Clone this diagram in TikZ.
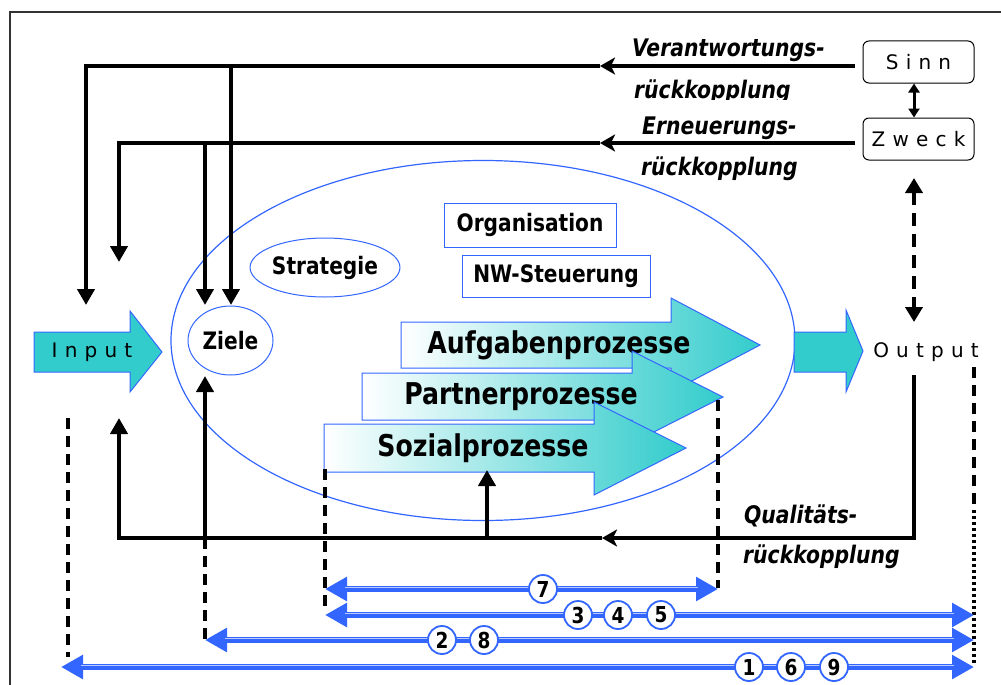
\documentclass[tikz,border=0pt]{standalone}
\usepackage{fontspec}
\setmainfont{DejaVu Sans}
\newfontfamily\bsf{DejaVu Sans}[FakeStretch=0.84]
\newfontfamily\spc{DejaVu Sans}[LetterSpace=36]
\usetikzlibrary{arrows.meta,shapes.geometric}
\definecolor{lineblue}{HTML}{3366FF}
\definecolor{tealc}{HTML}{33CCCC}
\tikzset{
  fb/.style={line width=4.5pt, black},
  tipd/.style={-{Triangle[length=16pt,width=17pt]}},
  midtip/.style={-{Stealth[length=15pt,width=17pt,inset=4pt]}},
  dsh/.style={line width=4.5pt, black, dash pattern=on 11pt off 7pt},
  dts/.style={line width=4pt, black, dash pattern=on 3pt off 3pt},
  bluear/.style={line width=6.5pt, lineblue, {Triangle[length=22pt,width=23pt]}-{Triangle[length=22pt,width=23pt]}},
  hilite/.style={line width=1pt, lineblue!35},
  numc/.style={circle, draw=lineblue, line width=1.8pt, fill=white, minimum size=28pt, inner sep=0pt, font=\bsf\bfseries\fontsize{22}{22}\selectfont},
  bbox/.style={draw=lineblue, line width=1pt, inner sep=0pt, font=\bsf\bfseries\fontsize{24}{28}\selectfont},
  procarrow/.style={draw=lineblue, line width=1pt, left color=white, right color=tealc},
  proctext/.style={inner sep=0pt, font=\bsf\bfseries\fontsize{30}{34}\selectfont},
  fblabel/.style={anchor=base west, inner sep=0pt, font=\bsf\bfseries\itshape\fontsize{24.2}{28}\selectfont},
  roundbox/.style={draw=black, line width=1pt, rounded corners=6pt, inner sep=0pt, minimum width=111pt, minimum height=42pt, font=\spc\fontsize{20}{24}\selectfont},
  fatarrow/.style={draw=lineblue, line width=1pt, fill=tealc},
}
\begin{document}
\begin{tikzpicture}[x=1pt,y=-1pt]
\useasboundingbox (0,0) rectangle (1001,685);
\fill[white] (0,0) rectangle (1001,685);
% frame
\draw[line width=1.5pt, black!80] (10,700) -- (10,12) -- (1010,12);

% big ellipse
\draw[lineblue, line width=1.2pt] (483,340.5) ellipse [x radius=312, y radius=180];

% process arrows
\path[procarrow] (401,322) -- (671,322) -- (671,298) -- (760,345) -- (671,392) -- (671,368) -- (401,368) -- cycle;
\node[proctext] (aufg) at (559,345) {Aufgabenprozesse};
\path[procarrow] (362,373) -- (632,373) -- (632,351) -- (723,397) -- (632,443) -- (632,420) -- (362,420) -- cycle;
\node[proctext] (partner) at (521,397) {Partnerprozesse};
\path[procarrow] (324,424) -- (594,424) -- (594,402) -- (686,448) -- (594,495) -- (594,472) -- (324,472) -- cycle;
\node[proctext] (sozial) at (483,448) {Sozialprozesse};

% inner nodes
\node[bbox, minimum width=172pt, minimum height=44pt] (org) at (530,225) {Organisation};
\node[bbox, minimum width=188pt, minimum height=42pt] (nw) at (556,276) {NW-Steuerung};
\node[bbox, ellipse, minimum width=136pt, minimum height=59pt] (strat) at (325,267.5) {Strategie};
\node[bbox, ellipse, minimum width=85pt, minimum height=69pt] (ziele) at (230.5,340.5) {Ziele};

% input / output arrows
\path[fatarrow] (34,332) -- (130,332) -- (130,311) -- (162,352) -- (130,392) -- (130,372) -- (34,372) -- cycle;
\node[inner sep=0pt, font=\spc\fontsize{20}{24}\selectfont] (input) at (92,352) {Input};
\path[fatarrow] (794,332) -- (846,332) -- (846,310) -- (863,351) -- (846,392) -- (846,372) -- (794,372) -- cycle;
\node[inner sep=0pt, font=\spc\fontsize{20}{24}\selectfont] (output) at (926,352) {Output};

% Sinn / Zweck
\node[roundbox] (sinn) at (918.5,62) {Sinn};
\node[roundbox] (zweck) at (918.5,139) {Zweck};
\draw[line width=3pt, {Triangle[length=9pt,width=11pt]}-{Triangle[length=9pt,width=11pt]}] ([xshift=-4.5pt]sinn.south) -- ([xshift=-4.5pt]zweck.north);
\coordinate (zd) at (914,178);
\coordinate (od) at (914,322);
\draw[line width=4.5pt, dash pattern=on 13pt off 8pt, {Triangle[length=15pt,width=17pt]}-{Triangle[length=15pt,width=17pt]}] (zd) -- (od);

% Verantwortungsrueckkopplung
\coordinate (v0) at (855,66);
\coordinate (vm) at (600,66);
\coordinate (vl) at (86,66);
\coordinate (vz) at (231,66);
\coordinate (vin) at (86,305);
\coordinate (vzi) at (231,305);
\draw[fb, midtip] (v0) -- (vm);
\draw[fb, tipd] (vm) -- (vl) -- (vin);
\draw[fb, tipd] (vz) -- (vzi);

% Erneuerungsrueckkopplung
\coordinate (e0) at (855,143);
\coordinate (em) at (600,143);
\coordinate (el) at (119,143);
\coordinate (ez) at (205,143);
\coordinate (ein) at (119,262);
\coordinate (ezi) at (205,305);
\draw[fb, midtip] (e0) -- (em);
\draw[fb, tipd] (em) -- (el) -- (ein);
\draw[fb, tipd] (ez) -- (ezi);
\draw[fb] (231,130) -- (231,160);

% Qualitaetsrueckkopplung
\coordinate (q0) at (914,375);
\coordinate (qc) at (914,538);
\coordinate (qm) at (602,538);
\coordinate (ql) at (119,538);
\coordinate (qin) at (119,418);
\coordinate (qz) at (205,538);
\coordinate (qzi) at (205,376);
\coordinate (qs) at (487,538);
\coordinate (qsi) at (487,470);
\draw[fb, midtip] (q0) -- (qc) -- (qm);
\draw[fb, tipd] (qm) -- (ql) -- (qin);
\draw[fb, tipd] (qz) -- (qzi);
\draw[fb, tipd] (qs) -- (qsi);

% labels
\node[fblabel] (lv1) at (632,57) {Verantwortungs-};
\begin{scope}
\clip (600,75) rectangle (860,99.5);
\node[fblabel] (lv2) at (634,98.5) {rückkopplung};
\end{scope}
\node[fblabel] (le1) at (642,134) {Erneuerungs-};
\node[fblabel] (le2) at (641,175) {rückkopplung};
\node[fblabel] (lq1) at (744,523) {Qualitäts-};
\node[fblabel] (lq2) at (743,563) {rückkopplung};

% dashed guides
\coordinate (d1a) at (68,418);  \coordinate (d1b) at (68,657);
\coordinate (d2b) at (205,640);
\coordinate (d3a) at (325,469); \coordinate (d3b) at (325,608);
\coordinate (d4a) at (718,400); \coordinate (d4b) at (718,588);
\coordinate (d5a) at (974,367); \coordinate (d5m) at (974,510); \coordinate (d5b) at (974,665);
\draw[dsh] (d1a) -- (d1b);
\draw[dsh] (qz) -- (d2b);
\draw[dsh] (d3a) -- (d3b);
\draw[dsh] (d4a) -- (d4b);
\draw[dsh] (d5a) -- (d5m);
\draw[dts] (d5m) -- (d5b);

% blue range arrows
\coordinate (b7l) at (325,589); \coordinate (b7r) at (718,589);
\coordinate (b3l) at (325,615); \coordinate (b3r) at (974,615);
\coordinate (b2l) at (205,640); \coordinate (b2r) at (974,640);
\coordinate (b1l) at (61,667);  \coordinate (b1r) at (974,667);
\foreach \l/\r in {b7l/b7r, b3l/b3r, b2l/b2r, b1l/b1r}{
  \draw[bluear] (\l) -- (\r);
  \draw[hilite] ([xshift=20pt,yshift=1.6pt]\l) -- ([xshift=-20pt,yshift=1.6pt]\r);
}
\node[numc] (n7) at (543,589) {7};
\node[numc] (n3) at (578,615) {3};
\node[numc] (n4) at (618,615) {4};
\node[numc] (n5) at (661,615) {5};
\node[numc] (n2) at (442,640) {2};
\node[numc] (n8) at (484,640) {8};
\node[numc] (n1) at (749,667) {1};
\node[numc] (n6) at (791,667) {6};
\node[numc] (n9) at (834,667) {9};
\end{tikzpicture}
\end{document}
